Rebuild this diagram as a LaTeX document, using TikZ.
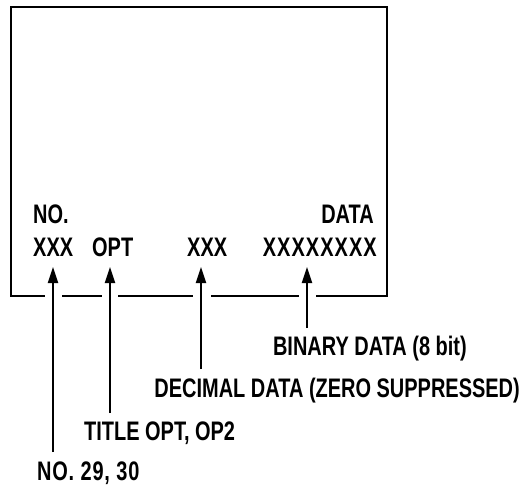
\documentclass[tikz,border=0pt]{standalone}
\usepackage{fontspec}
\setmainfont{Liberation Sans}[FakeStretch=0.745]
\usetikzlibrary{arrows.meta}
\begin{document}
\begin{tikzpicture}[x=1pt,y=-1pt,
  lbl/.style={inner sep=0pt,anchor=base west,font=\fontsize{26.8}{29}\selectfont\bfseries},
  frame/.style={line width=2.4pt,line cap=rect},
  pointer/.style={line width=2pt,-{Triangle[length=16pt,width=10pt]}}]
\useasboundingbox (0,0) rectangle (527,485);
% frame
\draw[frame] (44,296) -- (11,296) -- (11,7) -- (387,7) -- (387,296) -- (317,296);
\draw[frame] (63,296) -- (101,296);
\draw[frame] (119,296) -- (192,296);
\draw[frame] (212,296) -- (298,296);
% texts in the frame
\node[lbl] (no) at (33,223) {NO.};
\node[lbl,anchor=base east] (data) at (374,223) {DATA};
\node[lbl] (x1) at (33,256) {XXX};
\node[lbl] (opt) at (92,256) {OPT};
\node[lbl] (x2) at (187,256) {XXX};
\node[lbl,anchor=base east] (x3) at (377,256) {\addfontfeature{LetterSpace=4}XXXXXXXX};
% labels
\node[lbl,anchor=base east] (bin) at (467,355) {BINARY DATA (8 bit)};
\node[lbl,anchor=base east] (dec) at (520,397) {DECIMAL DATA (ZERO SUPPRESSED)};
\node[lbl] (tit) at (84,440) {TITLE OPT, OP2};
\node[lbl] (num) at (37,480) {\addfontfeature{LetterSpace=3}NO. 29, 30};
% connector ends
\coordinate (e1) at (53,452);
\coordinate (t1) at (53,267);
\coordinate (e2) at (110,413);
\coordinate (t2) at (110,267);
\coordinate (e3) at (201,369);
\coordinate (t3) at (201,267);
\coordinate (e4) at (307,328);
\coordinate (t4) at (307,267);
\draw[pointer] (e1) -- (t1);
\draw[pointer] (e2) -- (t2);
\draw[pointer] (e3) -- (t3);
\draw[pointer] (e4) -- (t4);
\end{tikzpicture}
\end{document}
